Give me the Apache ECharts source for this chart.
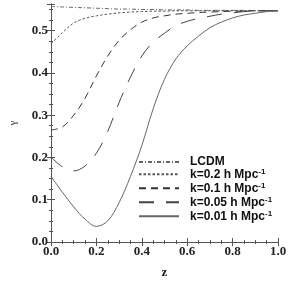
<!DOCTYPE html>
<html><head><meta charset="utf-8">
<script src="https://cdn.jsdelivr.net/npm/echarts@6/dist/echarts.min.js"></script>
<style>html,body{margin:0;padding:0;background:#fff}#c{width:291px;height:284px}</style>
</head><body><div id="c"></div>
<script>
const z = [0,0.05,0.1,0.15,0.2,0.25,0.3,0.35,0.4,0.45,0.5,0.55,0.6,0.65,0.7,0.75,0.8,0.85,0.9,0.95,1.0];
const lcdm = [0.557,0.556,0.555,0.554,0.553,0.552,0.551,0.551,0.550,0.550,0.549,0.549,0.549,0.548,0.548,0.548,0.548,0.548,0.547,0.547,0.547];
const k02  = [0.469,0.495,0.518,0.529,0.535,0.539,0.542,0.544,0.545,0.546,0.546,0.547,0.547,0.547,0.547,0.547,0.547,0.547,0.547,0.547,0.547];
const k01  = [0.265,0.272,0.300,0.340,0.393,0.440,0.477,0.502,0.520,0.530,0.535,0.539,0.541,0.543,0.544,0.545,0.546,0.546,0.547,0.547,0.547];
const k005 = [0.201,0.178,0.168,0.180,0.210,0.262,0.330,0.390,0.440,0.473,0.494,0.512,0.522,0.529,0.534,0.539,0.542,0.545,0.546,0.547,0.547];
const k001 = [0.155,0.118,0.083,0.054,0.037,0.050,0.093,0.155,0.228,0.315,0.385,0.433,0.464,0.487,0.507,0.520,0.530,0.537,0.541,0.545,0.547];
const names = ['LCDM','k=0.2 h Mpc','k=0.1 h Mpc','k=0.05 h Mpc','k=0.01 h Mpc'];
const xTicks = [0,0.2,0.4,0.6,0.8,1.0];
const yTicks = [0,0.1,0.2,0.3,0.4,0.5];

const chart = echarts.init(document.getElementById('c'));
const pair = arr => z.map((v,i)=>[v,arr[i]]);
const SERIF = "'Liberation Serif', 'Times New Roman', serif";
const SANS = "'Liberation Sans', Arial, sans-serif";
const labelFont = {fontFamily:SERIF,fontWeight:'bold',fontSize:13,color:'#222'};
function mk(name, data, type, color){
  return {name, type:'line', data:pair(data), smooth:0.35, symbol:'none',
    lineStyle:{width:1, color, type}, itemStyle:{color}};
}
const tick = {show:true,inside:true,length:4,lineStyle:{color:'#555'}};
const minor = {show:true,splitNumber:4,length:2,lineStyle:{color:'#555'}};
const line = {show:true,lineStyle:{color:'#555',width:1}};
chart.setOption({
  animation:false,
  grid:{left:40,right:13,top:4,bottom:39},
  legend:{
    left:133, top:151, orient:'vertical', itemWidth:40, itemHeight:12.5, itemGap:0,
    itemStyle:{opacity:0},
    data:names,
    formatter: n => n==='LCDM' ? '{a|LCDM}' : '{a|'+n+'}{s|-1}',
    textStyle:{rich:{
      a:{fontFamily:SANS,fontWeight:'bold',fontSize:12,color:'#111',lineHeight:12.5,padding:[0,0,0,6]},
      s:{fontFamily:SANS,fontWeight:'bold',fontSize:8,color:'#111',verticalAlign:'top',lineHeight:12.5,padding:[0,0,6,0]}
    }}
  },
  xAxis:[{
    type:'value', min:0, max:1, interval:0.2,
    name:'z', nameLocation:'middle', nameGap:24,
    nameTextStyle:{fontFamily:SERIF,fontWeight:'bold',fontSize:13,color:'#222'},
    axisLine:line, axisTick:tick, minorTick:minor, splitLine:{show:false},
    axisLabel:{...labelFont, margin:3, formatter:v=>xTicks.some(t=>Math.abs(t-v)<1e-9)?v.toFixed(1):''}
  },{
    type:'value', min:0, max:1, interval:0.2, position:'top',
    axisLine:line, axisTick:tick, minorTick:minor, splitLine:{show:false}, axisLabel:{show:false}
  }],
  yAxis:[{
    type:'value', min:0, max:0.563, interval:0.1,
    name:'γ', nameLocation:'middle', nameGap:32, nameRotate:90,
    nameTextStyle:{fontFamily:SERIF,fontSize:11,color:'#333'},
    axisLine:line, axisTick:tick, minorTick:minor, splitLine:{show:false},
    axisLabel:{...labelFont, margin:3, formatter:v=>yTicks.some(t=>Math.abs(t-v)<1e-9)?v.toFixed(1):''}
  },{
    type:'value', min:0, max:0.563, interval:0.1, position:'right',
    axisLine:line, axisTick:tick, minorTick:minor, splitLine:{show:false}, axisLabel:{show:false}
  }],
  series:[
    mk(names[0], lcdm, [4,2,1,2], '#666'),
    mk(names[1], k02, [2.5,2], '#555'),
    mk(names[2], k01, [7,5], '#333'),
    mk(names[3], k005, [15,12], '#444'),
    mk(names[4], k001, 'solid', '#666')
  ]
});
</script></body></html>
